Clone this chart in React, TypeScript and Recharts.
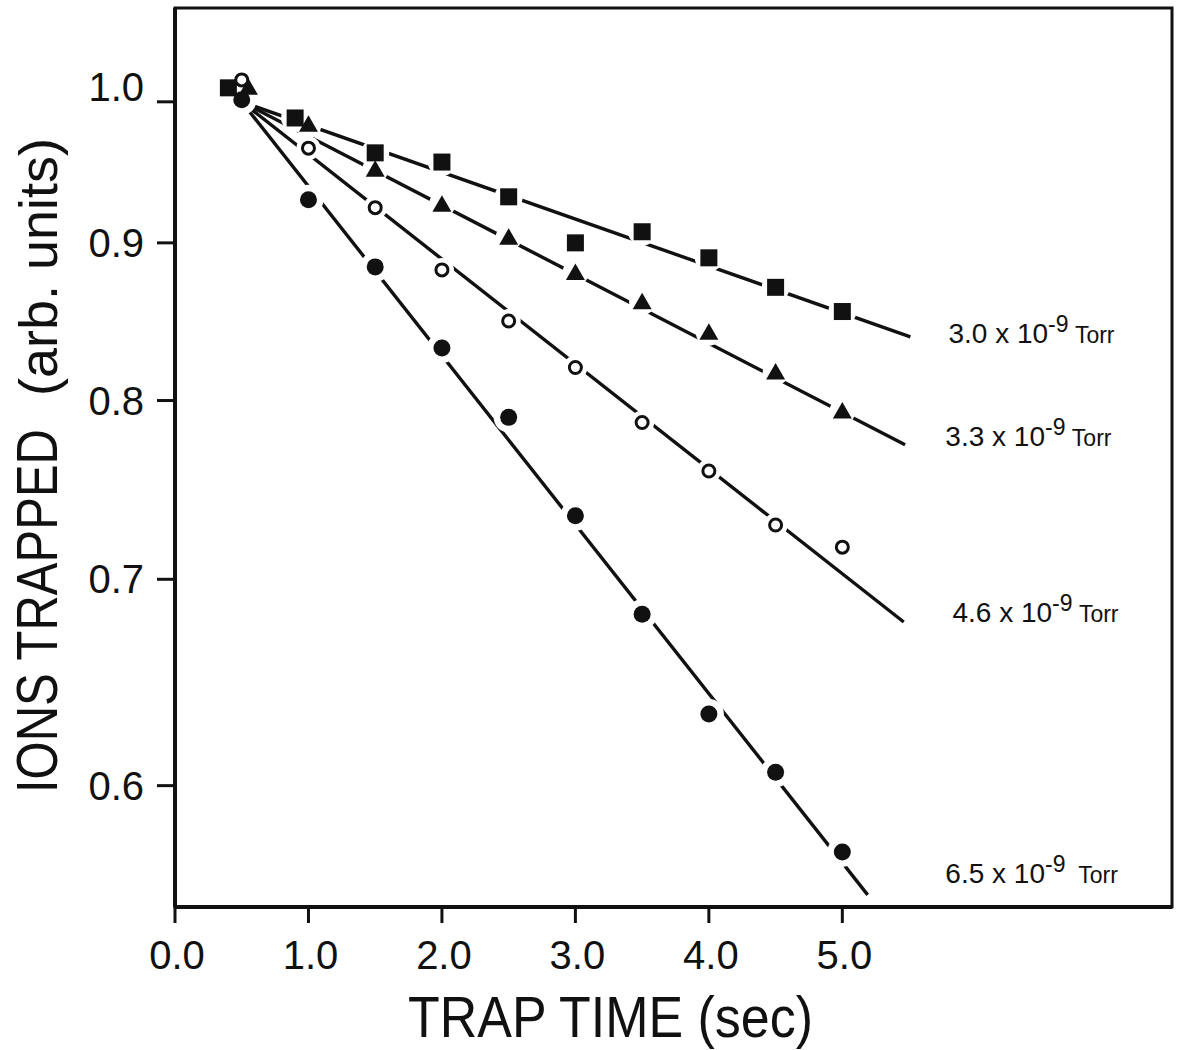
import { ComposedChart, Line, Scatter, XAxis, YAxis, ReferenceArea, ReferenceDot } from 'recharts';

// trap time (sec) per series
const TIME_SQUARE = [0.4, 0.9, 1.5, 2.0, 2.5, 3.0, 3.5, 4.0, 4.5, 5.0];
const TIME_TRIANGLE = [0.55, 1.0, 1.5, 2.0, 2.5, 3.0, 3.5, 4.0, 4.5, 5.0];
const TIME_CIRCLE = [0.5, 1.0, 1.5, 2.0, 2.5, 3.0, 3.5, 4.0, 4.5, 5.0];

// ions trapped (arb. units)
const IONS_30 = [1.0105, 0.988, 0.9626, 0.956, 0.9315, 0.9, 0.9075, 0.89, 0.8706, 0.855];
const IONS_33 = [1.0105, 0.983, 0.9505, 0.926, 0.9035, 0.88, 0.861, 0.8415, 0.817, 0.7935];
const IONS_46 = [1.0165, 0.966, 0.924, 0.882, 0.849, 0.82, 0.787, 0.759, 0.729, 0.717];
const IONS_65 = [1.0015, 0.9295, 0.884, 0.832, 0.79, 0.734, 0.682, 0.633, 0.606, 0.571];

// fitted decay lines, start and end
const FIT_TIME = [[0.5, 5.51], [0.5, 5.47], [0.5, 5.46], [0.5, 5.19]];
const FIT_IONS = [[1.0, 0.839], [1.0, 0.774], [1.0, 0.678], [1.0, 0.553]];

const PRESSURES = ['3.0', '3.3', '4.6', '6.5'];
const LABEL_TIME = [5.795, 5.772, 5.825, 5.772];
const LABEL_IONS = [0.835, 0.773, 0.678, 0.558];

const X_TICKS = [0, 1, 2, 3, 4, 5];
const Y_TICKS = [0.6, 0.7, 0.8, 0.9, 1.0];
const X_DOMAIN: [number, number] = [0, 7.47];
const Y_DOMAIN: [number, number] = [0.548, 1.0726];

const INK = '#111';
const FONT = "'Liberation Sans', Arial, sans-serif";

const toPoints = (times: number[], ions: number[]) => times.map((t, i) => ({ t, v: ions[i] }));

const seriesPoints = [
  toPoints(TIME_SQUARE, IONS_30),
  toPoints(TIME_TRIANGLE, IONS_33),
  toPoints(TIME_CIRCLE, IONS_46),
  toPoints(TIME_CIRCLE, IONS_65),
];
const fitLines = FIT_TIME.map((ts, i) => toPoints(ts, FIT_IONS[i]));

// white gap the markers cut into the fit lines
const haloRadius = [14, 13, 12, 15];

const Square = ({ cx, cy }: any) => <rect x={cx - 8.5} y={cy - 8.5} width={17} height={17} fill={INK} />;
const Triangle = ({ cx, cy }: any) => (
  <polygon points={`${cx},${cy - 9.5} ${cx - 9.5},${cy + 7} ${cx + 9.5},${cy + 7}`} fill={INK} />
);
const OpenCircle = ({ cx, cy }: any) => <circle cx={cx} cy={cy} r={6} fill="#fff" stroke={INK} strokeWidth={3} />;
const FilledCircle = ({ cx, cy }: any) => <circle cx={cx} cy={cy} r={8.5} fill={INK} />;
const markers = [Square, Triangle, OpenCircle, FilledCircle];

const YTick = ({ x, y, payload }: any) => (
  <text x={x} y={payload.value === 1 ? y - 1 : y + 14} textAnchor="end" fontFamily={FONT} fontSize={40} fill={INK}>
    {payload.value.toFixed(1)}
  </text>
);

const XTick = ({ x, y, payload }: any) => (
  <text x={x + 2} y={y + 46} textAnchor="middle" fontFamily={FONT} fontSize={40} fill={INK}>
    {payload.value.toFixed(1)}
  </text>
);

const XTitle = () => (
  <text x={408} y={1037} fontFamily={FONT} fontSize={58} fill={INK} textLength={405} lengthAdjust="spacingAndGlyphs">
    TRAP TIME (sec)
  </text>
);

const YTitle = () => (
  <g fontFamily={FONT} fill={INK}>
    <text x={57} y={793} transform="rotate(-90 57 793)" fontSize={58} textLength={364} lengthAdjust="spacingAndGlyphs">
      IONS TRAPPED
    </text>
    <text x={57} y={396} transform="rotate(-90 57 396)" fontSize={54} textLength={258} lengthAdjust="spacingAndGlyphs">
      (arb. units)
    </text>
  </g>
);

const PressureLabel = ({ viewBox, text }: any) => {
  const x = viewBox.x + (viewBox.width || 0) / 2;
  const y = viewBox.y + (viewBox.height || 0) / 2;
  return (
    <text x={x} y={y} fontFamily={FONT} fill={INK} fontSize={28}>
      {text} x 10
      <tspan dy={-11} fontSize={23}>-9</tspan>
      <tspan dy={11} fontSize={23}>{text === '6.5' ? '\u00A0\u00A0Torr' : '\u00A0Torr'}</tspan>
    </text>
  );
};

export default function App() {
  return (
    <div style={{ position: 'absolute', left: 0, top: 0, width: 1178, height: 1050, background: '#fff' }}>
      <ComposedChart width={1178} height={1050} margin={{ top: 8, right: 6, bottom: 0, left: 0 }}>
        <XAxis
          dataKey="t"
          type="number"
          domain={X_DOMAIN}
          ticks={X_TICKS}
          allowDataOverflow
          height={143}
          tickSize={16}
          tickMargin={0}
          axisLine={{ stroke: INK, strokeWidth: 4 }}
          tickLine={{ stroke: INK, strokeWidth: 3 }}
          tick={<XTick />}
          label={<XTitle />}
        />
        <YAxis
          type="number"
          scale="log"
          domain={Y_DOMAIN}
          ticks={Y_TICKS}
          allowDataOverflow
          width={175}
          tickSize={18}
          tickMargin={13}
          axisLine={{ stroke: INK, strokeWidth: 4 }}
          tickLine={{ stroke: INK, strokeWidth: 3 }}
          tick={<YTick />}
          label={<YTitle />}
        />
        <ReferenceArea
          x1={X_DOMAIN[0]}
          x2={X_DOMAIN[1]}
          y1={Y_DOMAIN[0]}
          y2={Y_DOMAIN[1]}
          fill="none"
          stroke={INK}
          strokeWidth={3}
          ifOverflow="visible"
        />
        {fitLines.map((d, i) => (
          <Line
            key={`fit-${i}`}
            data={d}
            dataKey="v"
            stroke={INK}
            strokeWidth={3.4}
            dot={false}
            activeDot={false}
            isAnimationActive={false}
          />
        ))}
        {seriesPoints.map((d, i) => (
          <Scatter
            key={`halo-${i}`}
            data={d}
            dataKey="v"
            isAnimationActive={false}
            shape={(p: any) => <circle cx={p.cx} cy={p.cy} r={haloRadius[i]} fill="#fff" />}
          />
        ))}
        {seriesPoints.map((d, i) => {
          const Marker = markers[i];
          return (
            <Scatter
              key={`pts-${i}`}
              data={d}
              dataKey="v"
              isAnimationActive={false}
              shape={(p: any) => <Marker cx={p.cx} cy={p.cy} />}
            />
          );
        })}
        {PRESSURES.map((p, i) => (
          <ReferenceDot
            key={`lbl-${i}`}
            x={LABEL_TIME[i]}
            y={LABEL_IONS[i]}
            r={0}
            fill="none"
            stroke="none"
            label={<PressureLabel text={p} />}
          />
        ))}
      </ComposedChart>
    </div>
  );
}
